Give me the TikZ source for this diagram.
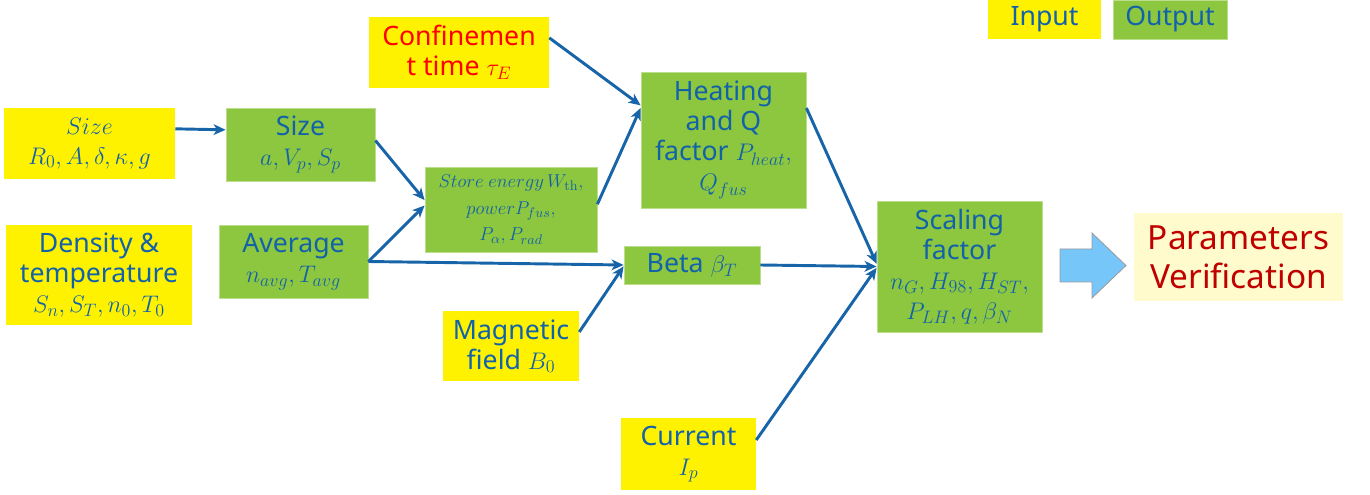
\RequirePackage{fix-cm}
\documentclass[tikz,border=0pt]{standalone}
\usepackage[no-math]{fontspec}
\setmainfont{Noto Sans}
\usetikzlibrary{arrows.meta,calc}
\DeclareMathSizes{20}{18}{13.5}{10}
\DeclareMathSizes{14}{14}{10.5}{8}
\definecolor{ybox}{HTML}{FFF200}
\definecolor{gbox}{HTML}{8DC63F}
\definecolor{tblue}{HTML}{1262AA}
\definecolor{ablue}{HTML}{1765A8}
\definecolor{dred}{HTML}{C00000}
\definecolor{pbg}{HTML}{FFFBCC}
\definecolor{bigarrow}{HTML}{77C6FA}
\tikzset{
  box/.style={rectangle, inner sep=0pt, align=center, text=tblue,
    font=\fontsize{20}{22.5}\selectfont},
  inbox/.style={box, fill=ybox},
  outbox/.style={box, fill=gbox, draw=gbox!60!white, line width=0.6pt},
  sz/.style 2 args={minimum width=#1*0.75pt, minimum height=#2*0.75pt},
  conn/.style={draw=ablue, line width=2.2pt, -{Stealth[length=9pt,width=8pt,inset=2.5pt]}}
}
\begin{document}
\begin{tikzpicture}[x=0.75pt,y=-0.75pt]
\useasboundingbox (0,0) rectangle (1370,495);
% legend
\node[inbox, sz={113}{39}] (lin) at (1044.5,19.5) {Input};
\node[outbox, sz={114}{39}] (lout) at (1170,19.5) {Output};
% inputs
\node[inbox, sz={171}{71}] (sizein) at (89.5,143.5) {$Size$\\$R_0, A, \delta, \kappa, g$};
\node[inbox, sz={186}{100}] (dens) at (99,275) {Density \&\\temperature\\$S_n, S_T, n_0, T_0$};
\node[inbox, sz={180}{71}, text=red] (conf) at (459,52.5) {Confinemen\\t time $\tau_E$};
\node[inbox, sz={136}{70}] (mag) at (511,346) {Magnetic\\field $B_0$};
\node[inbox, sz={135}{72}] (cur) at (688.5,454) {Current\\$I_p$};
% outputs
\node[outbox, sz={149}{73}] (sizeout) at (300.5,144.5) {Size\\$a, V_p, S_p$};
\node[outbox, sz={149}{73}] (avg) at (293.5,261.5) {Average\\$n_{avg}, T_{avg}$};
\node[outbox, sz={172}{85}, font=\fontsize{14}{20}\selectfont] (store) at (511,209.5)
  {$Store\ energy\, W_{\mathrm{th}},$\\$power P_{fus},$\\$P_\alpha, P_{rad}$};
\node[outbox, sz={165}{136}] (heat) at (723.5,140) {Heating\\and Q\\factor $P_{heat},$\\$Q_{fus}$};
\node[outbox, sz={136}{38}] (beta) at (692,265) {Beta $\beta_T$};
\node[outbox, sz={165}{131}] (scal) at (959.5,266.5) {Scaling\\factor\\$n_G, H_{98}, H_{ST},$\\$P_{LH}, q, \beta_N$};
\node[box, fill=pbg, sz={209}{88}, text=dred, font=\fontsize{25}{29}\selectfont] (par) at (1238.5,257) {Parameters\\Verification};
% big arrow
\draw[fill=bigarrow, draw=gray!80, line width=0.6pt]
  (1060,249) -- (1092,249) -- (1092,233) -- (1126,265.5) -- (1092,298) -- (1092,282) -- (1060,282) -- cycle;
% connectors
\draw[conn] ([yshift=11pt]sizein.east) -- ([yshift=11pt]sizeout.west);
\draw[conn] ([yshift=3pt]sizeout.east) -- ([yshift=7pt]store.west);
\draw[conn] (avg.east) -- ([yshift=3pt]store.west);
\draw[conn] (avg.east) -- (beta.west);
\draw[conn] ([yshift=4pt]store.east) -- ([yshift=24pt]heat.west);
\draw[conn] ([yshift=11pt]conf.east) -- ([yshift=26pt]heat.west);
\draw[conn] ([yshift=24pt]heat.east) -- ([yshift=2pt]scal.west);
\draw[conn] (beta.east) -- (scal.west);
\draw[conn] ([yshift=10.5pt]mag.east) -- ([yshift=-1pt]beta.west);
\draw[conn] ([yshift=10.5pt]cur.east) -- ([yshift=-1pt]scal.west);
\end{tikzpicture}
\end{document}
